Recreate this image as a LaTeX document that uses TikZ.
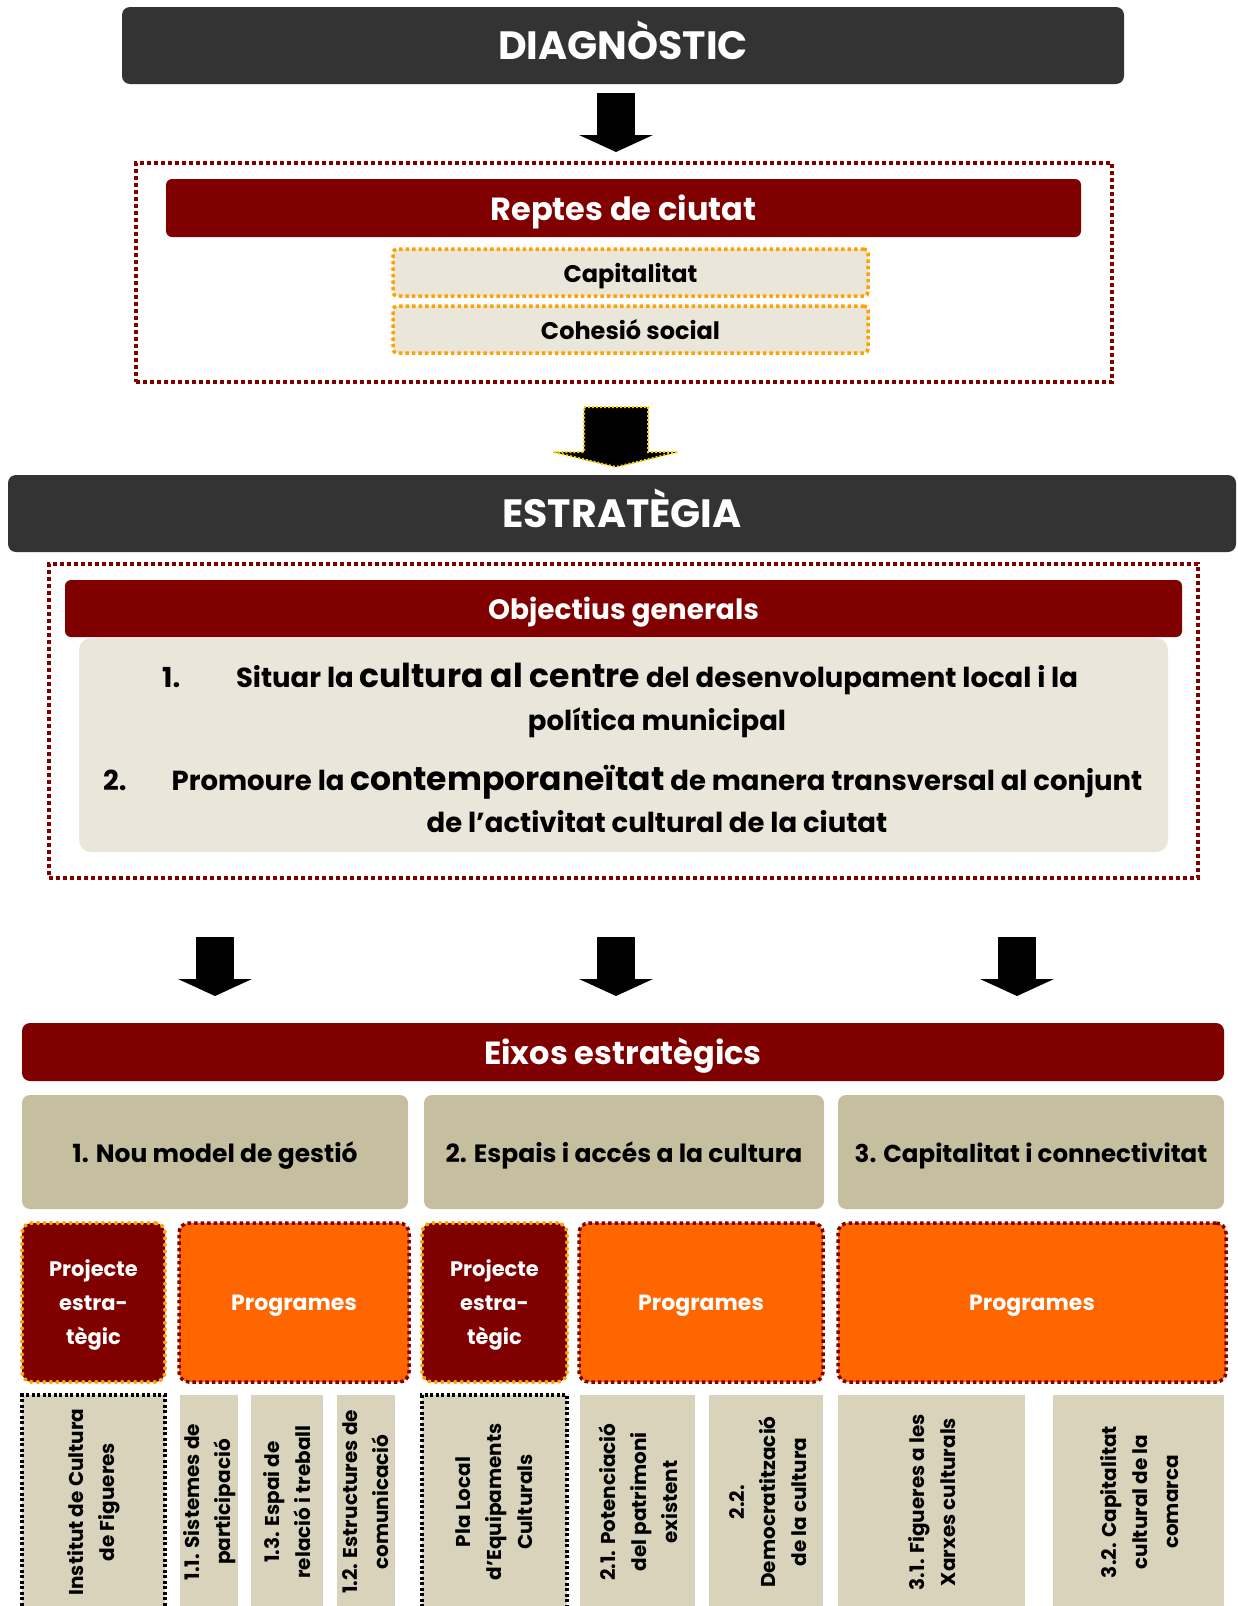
\documentclass[tikz,border=0pt]{standalone}
\usepackage{fontspec}
\setmainfont{Poppins}
\usetikzlibrary{arrows.meta}
\definecolor{fosc}{HTML}{333333}
\definecolor{granat}{HTML}{800000}
\definecolor{crema}{HTML}{EAE6DA}
\definecolor{tan}{HTML}{C5BE9F}
\definecolor{sorra}{HTML}{D9D3BC}
\definecolor{taronja}{HTML}{FF6600}
\definecolor{ataronjat}{HTML}{FFA200}
\definecolor{groc}{HTML}{FFD000}
\tikzset{
  caixa/.style={rounded corners=8pt, inner sep=0pt, align=center},
  fosca/.style={caixa, fill=fosc, text=white, text height=28pt, text depth=0pt, font=\fontsize{39.5}{44}\selectfont\bfseries},
  titol/.style={caixa, fill=granat, text=white, text height=24pt, text depth=0pt, font=\fontsize{32}{36}\selectfont\bfseries},
  repte/.style={caixa, rounded corners=4pt, fill=crema, draw=ataronjat, line width=3.5pt, dash pattern=on 3.5pt off 3pt, text height=19pt, text depth=0pt, font=\fontsize{24}{28}\selectfont\bfseries},
  marc/.style={draw=granat, line width=4.5pt, dash pattern=on 4pt off 3pt, inner sep=0pt},
  fletxa/.style={line width=38pt, -{Triangle[width=74pt, length=17pt, line width=0pt]}},
  eix/.style={caixa, fill=tan, text height=20pt, text depth=0pt, font=\fontsize{25}{30}\selectfont\bfseries},
  projecte/.style={caixa, text depth=0pt, rounded corners=10pt, fill=granat, text=white, draw=ataronjat, line width=4pt, line cap=round, dash pattern=on 0pt off 6.5pt, font=\fontsize{21}{34}\selectfont\bfseries},
  programa/.style={caixa, rounded corners=10pt, fill=taronja, text=white, draw=granat, line width=3.5pt, dash pattern=on 3.5pt off 3pt, text height=16.5pt, text depth=0pt, font=\fontsize{22}{26}\selectfont\bfseries},
  columna/.style={fill=sorra, inner sep=0pt},
  puntejat/.style={columna, draw=black, line width=3.5pt, dash pattern=on 3pt off 2.5pt},
  vert/.style={rotate=90, align=center, inner sep=0pt, font=\fontsize{20}{31}\selectfont\bfseries},
  objectiu/.style={anchor=base, inner sep=0pt, font=\fontsize{27.5}{32}\selectfont\bfseries},
}
\newcommand\gran[1]{{\fontsize{33}{34}\selectfont #1}}
\begin{document}
\begin{tikzpicture}[x=1pt, y=-1pt]
  \useasboundingbox (0,0) rectangle (1237,1606);
  \clip (0,0) rectangle (1237,1606);
  \node[fosca, minimum width=1002pt, minimum height=77pt] (diag) at (623,45.5) {DIAGNÒSTIC};
  \coordinate (f1a) at (616,93);
  \coordinate (f1b) at (616,152);
  \draw[fletxa] (f1a) -- (f1b);
  \node[marc, minimum width=976pt, minimum height=219pt] (marc1) at (624,272.5) {};
  \node[titol, rounded corners=6pt, minimum width=915pt, minimum height=58pt] (reptes) at (623.5,208) {Reptes de ciutat};
  \node[repte, minimum width=475pt, minimum height=47pt] (capital) at (630.5,272.5) {Capitalitat};
  \node[repte, minimum width=475pt, minimum height=47pt] (cohesio) at (630.5,329.5) {Cohesió social};
  \draw[fill=black, draw=groc, line width=2pt, dash pattern=on 2pt off 2pt]
    (584,407) -- (648,407) -- (648,452) -- (678,452) -- (616,467) -- (553,452) -- (584,452) -- cycle;
  \node[fosca, minimum width=1228pt, minimum height=77pt] (estrat) at (622,513.5) {ESTRATÈGIA};
  \node[marc, minimum width=1149pt, minimum height=314pt] (marc2) at (623.5,721) {};
  \node[titol, font=\fontsize{28}{32}\selectfont\bfseries, text height=21pt, rounded corners=6pt, minimum width=1117pt, minimum height=57pt] (objgen) at (623.5,608.5) {Objectius generals};
  \node[caixa, rounded corners=12pt, fill=crema, minimum width=1089pt, minimum height=214pt] (objs) at (623.5,745) {};
  \node[objectiu, anchor=base west] (n1) at (162,687) {1.};
  \node[objectiu] (o1a) at (657,687) {Situar la \gran{cultura al centre} del desenvolupament local i la};
  \node[objectiu] (o1b) at (657,730) {política municipal};
  \node[objectiu, anchor=base west] (n2) at (103,790) {2.};
  \node[objectiu] (o2a) at (657,790) {Promoure la \gran{contemporaneïtat} de manera transversal al conjunt};
  \node[objectiu] (o2b) at (657,832) {de l’activitat cultural de la ciutat};
  \coordinate (f3a) at (215,937);
  \coordinate (f3b) at (215,996);
  \coordinate (f4a) at (616,937);
  \coordinate (f4b) at (616,996);
  \coordinate (f5a) at (1017,937);
  \coordinate (f5b) at (1017,996);
  \draw[fletxa] (f3a) -- (f3b);
  \draw[fletxa] (f4a) -- (f4b);
  \draw[fletxa] (f5a) -- (f5b);
  \node[titol, minimum width=1202pt, minimum height=58pt] (eixos) at (623,1052) {Eixos estratègics};
  \node[eix, minimum width=386pt, minimum height=114pt] (eix1) at (215,1152) {1. Nou model de gestió};
  \node[eix, minimum width=400pt, minimum height=114pt] (eix2) at (624,1152) {2. Espais i accés a la cultura};
  \node[eix, minimum width=386pt, minimum height=114pt, font=\fontsize{24.5}{30}\selectfont\bfseries] (eix3) at (1031,1152) {3. Capitalitat i connectivitat};
  \node[projecte, minimum width=143pt, minimum height=159pt] (proj1) at (93.5,1302.5) {Projecte\\estra-\\tègic};
  \node[programa, minimum width=230pt, minimum height=159pt] (prog1) at (294,1302.5) {Programes};
  \node[projecte, minimum width=145pt, minimum height=159pt] (proj2) at (494.5,1302.5) {Projecte\\estra-\\tègic};
  \node[programa, minimum width=244pt, minimum height=159pt] (prog2) at (701,1302.5) {Programes};
  \node[programa, minimum width=388pt, minimum height=159pt] (prog3) at (1032,1302.5) {Programes};
  \node[puntejat, minimum width=143pt, minimum height=260pt] (institut) at (93.5,1525) {};
  \node[columna, minimum width=58pt, minimum height=260pt] (p11) at (209,1525) {};
  \node[columna, minimum width=72pt, minimum height=260pt] (p13) at (287,1525) {};
  \node[columna, minimum width=58pt, minimum height=260pt] (p12) at (366,1525) {};
  \node[puntejat, minimum width=145pt, minimum height=260pt] (pla) at (494.5,1525) {};
  \node[columna, minimum width=115pt, minimum height=260pt] (p21) at (637.5,1525) {};
  \node[columna, minimum width=114pt, minimum height=260pt] (p22) at (766,1525) {};
  \node[columna, minimum width=187pt, minimum height=260pt] (p31) at (931.5,1525) {};
  \node[columna, minimum width=171pt, minimum height=260pt] (p32) at (1138.5,1525) {};
  \node[vert] (t-institut) at (94,1502) {Institut de Cultura\\de Figueres};
  \node[vert] (t11) at (209.5,1502) {1.1. Sistemes de\\participació};
  \node[vert] (t13) at (287,1502) {1.3. Espai de\\relació i treball};
  \node[vert] (t12) at (366,1502) {1.2. Estructures de\\comunicació};
  \node[vert] (t-pla) at (494.5,1502) {Pla Local\\d’Equipaments\\Culturals};
  \node[vert] (t21) at (638,1502) {2.1. Potenciació\\del patrimoni\\existent};
  \node[vert] (t22) at (768,1502) {2.2.\\Democratització\\de la cultura};
  \node[vert] (t31) at (932,1502) {3.1. Figueres a les\\Xarxes culturals};
  \node[vert] (t32) at (1140,1502) {3.2. Capitalitat\\cultural de la\\comarca};
\end{tikzpicture}
\end{document}
